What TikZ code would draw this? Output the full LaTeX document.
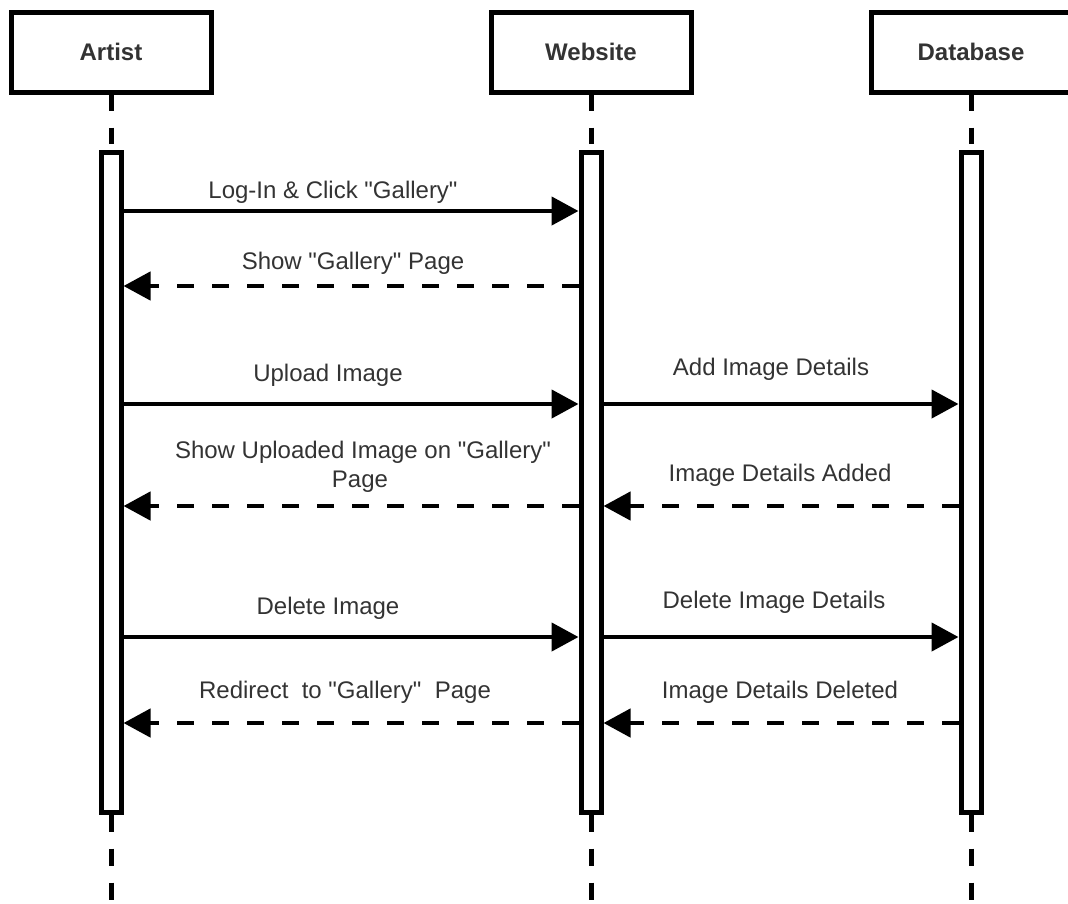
\documentclass[tikz,border=0pt]{standalone}
\usepackage{fontspec}
\setmainfont{Liberation Sans}[Ligatures=TeXOff]
\usetikzlibrary{arrows.meta}
\definecolor{txt}{HTML}{333333}
\begin{document}
\begin{tikzpicture}[x=1pt,y=-1pt,
  head/.style={draw, line width=5pt, fill=white, minimum width=200pt, minimum height=80pt,
    inner sep=0pt, font=\fontsize{24}{28.8}\selectfont\bfseries, text=txt},
  bar/.style={draw, line width=5pt, fill=white, minimum width=20pt, minimum height=660pt, inner sep=0pt},
  lifetop/.style={line width=5pt, dash pattern=on 16pt off 17pt},
  lifebot/.style={line width=5pt, dash pattern=on 17pt off 17pt},
  msg/.style={line width=4.5pt, -{Triangle[length=27pt,width=28pt]}},
  ret/.style={msg, dash pattern=on 17pt off 18pt},
  lbl/.style={font=\fontsize{24}{28.8}\selectfont, text=txt, inner sep=0pt, anchor=base, align=center},
]
\useasboundingbox (0,0) rectangle (1068,903);
\clip (0,0) rectangle (1068,903);

% participants
\node[head] (artist) at (111,52) {Artist};
\node[head] (web)    at (591,52) {Website};
\node[head] (db)     at (971,52) {Database};

% lifelines above the activation bars
\draw[lifetop] (artist.south) -- (111,152);
\draw[lifetop] (web.south) -- (591,152);
\draw[lifetop] (db.south) -- (971,152);
\coordinate (bottom) at (0,903);

% activation bars
\node[bar] (artbar) at (111,482) {};
\node[bar] (webbar) at (591,482) {};
\node[bar] (dbbar)  at (971,482) {};

% lifelines below the activation bars
\draw[lifebot] (artbar.south) -- (artbar.south |- bottom);
\draw[lifebot] (webbar.south) -- (webbar.south |- bottom);
\draw[lifebot] (dbbar.south) -- (dbbar.south |- bottom);

% message rows
\coordinate (m1) at (0,211);
\coordinate (m2) at (0,286);
\coordinate (m3) at (0,404);
\coordinate (m4) at (0,506);
\coordinate (m5) at (0,637);
\coordinate (m6) at (0,723);

\draw[msg] (artbar.east |- m1) -- (webbar.west |- m1);
\node[lbl] (l1) at (333,198) {Log-In \& Click "Gallery"};

\draw[ret] (webbar.west |- m2) -- (artbar.east |- m2);
\node[lbl] (l2) at (353,269) {Show "Gallery" Page};

\draw[msg] (artbar.east |- m3) -- (webbar.west |- m3);
\node[lbl] (l3) at (328,381) {Upload Image};
\draw[msg] (webbar.east |- m3) -- (dbbar.west |- m3);
\node[lbl] (l4) at (771,375) {Add Image Details};

\draw[ret] (webbar.west |- m4) -- (artbar.east |- m4);
\node[lbl] (l5) at (363,458) {Show Uploaded Image on "Gallery"};
\node[lbl] (l5b) at (360,487) {Page};
\draw[ret] (dbbar.west |- m4) -- (webbar.east |- m4);
\node[lbl] (l6) at (780,481) {Image Details Added};

\draw[msg] (artbar.east |- m5) -- (webbar.west |- m5);
\node[lbl] (l7) at (328,614) {Delete Image};
\draw[msg] (webbar.east |- m5) -- (dbbar.west |- m5);
\node[lbl] (l8) at (774,608) {Delete Image Details};

\draw[ret] (webbar.west |- m6) -- (artbar.east |- m6);
\node[lbl] (l9) at (345,698) {Redirect\ \ to "Gallery"\ \ Page};
\draw[ret] (dbbar.west |- m6) -- (webbar.east |- m6);
\node[lbl] (l10) at (780,698) {Image Details Deleted};
\end{tikzpicture}
\end{document}
